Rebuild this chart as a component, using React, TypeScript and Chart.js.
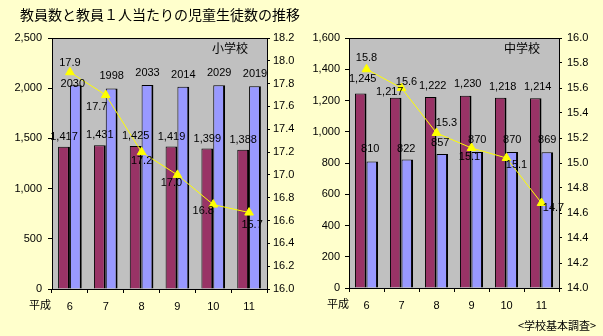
import React, { useEffect, useRef } from 'react';
import { Chart, registerables } from 'chart.js';
Chart.register(...registerables);

// ---- data ----
const categories = ['6', '7', '8', '9', '10', '11'];
const elemMaroon = [1417, 1431, 1425, 1419, 1399, 1388];
const elemBlue = [2030, 1998, 2033, 2014, 2029, 2019];
const elemRatio = [17.9, 17.7, 17.2, 17.0, 16.74, 16.67];
const elemRatioLabels = ['17.9', '17.7', '17.2', '17.0', '16.8', '15.7'];
const juniorMaroon = [1245, 1217, 1222, 1230, 1218, 1214];
const juniorBlue = [810, 822, 857, 870, 870, 869];
const juniorRatio = [15.75, 15.6, 15.24, 15.12, 15.04, 14.68];
const juniorRatioLabels = ['15.8', '15.6', '15.3', '15.1', '15.1', '14.7'];

const NUM_FONT = "'Liberation Sans', Arial, sans-serif";
const JP_FONT = "'Noto Sans CJK JP', sans-serif";

type Off = [number, number][];

interface PanelCfg {
  name: string;
  maroon: number[];
  blue: number[];
  ratio: number[];
  ratioLabels: string[];
  yMax: number;
  yStep: number;
  y1Min: number;
  y1Max: number;
  leftW: number;
  rightW: number;
  bottomY: number;
  width: number;
  leftPadTick: number;
  rightPadTick: number;
  maroonOff: Off;
  blueOff: Off;
  lineOff: Off;
  blueFmt: (v: number) => string;
  eraX: number;
}

const decorPlugin = {
  id: 'decor',
  beforeDraw(chart: any) {
    const { ctx, chartArea: a } = chart;
    ctx.save();
    ctx.fillStyle = '#C0C0C0';
    ctx.fillRect(a.left, a.top, a.right - a.left, a.bottom - a.top);
    ctx.restore();
  },
  afterDatasetsDraw(chart: any, _args: any, opts: any) {
    const cfg: PanelCfg = opts.cfg;
    const { ctx, chartArea: a } = chart;
    ctx.save();
    ctx.strokeStyle = '#000';
    ctx.lineWidth = 1;
    ctx.strokeRect(Math.round(a.left) + 0.5, Math.round(a.top) + 0.5, Math.round(a.right - a.left), Math.round(a.bottom - a.top));
    ctx.fillStyle = '#000';
    ctx.textAlign = 'center';
    ctx.textBaseline = 'middle';
    ctx.font = `11px ${NUM_FONT}`;
    const mMeta = chart.getDatasetMeta(1);
    const bMeta = chart.getDatasetMeta(2);
    const lMeta = chart.getDatasetMeta(0);
    cfg.maroon.forEach((v, i) => {
      const el = mMeta.data[i];
      const [dx, dy] = cfg.maroonOff[i];
      ctx.fillText(v.toLocaleString('en-US'), el.x + dx, el.y + dy);
    });
    cfg.blue.forEach((v, i) => {
      const el = bMeta.data[i];
      const [dx, dy] = cfg.blueOff[i];
      ctx.fillText(cfg.blueFmt(v), el.x + dx, el.y + dy);
    });
    cfg.ratioLabels.forEach((t, i) => {
      const el = lMeta.data[i];
      const [dx, dy] = cfg.lineOff[i];
      ctx.fillText(t, el.x + dx, el.y + dy);
    });
    // school name inside plot
    ctx.font = `12px ${JP_FONT}`;
    ctx.textAlign = 'right';
    ctx.fillText(cfg.name, a.right - 19, a.top + 10);
    // era label
    ctx.font = `11px ${JP_FONT}`;
    ctx.textAlign = 'center';
    ctx.fillText('平成', cfg.eraX, a.bottom + 16);
    ctx.restore();
  },
};

function buildConfig(cfg: PanelCfg): any {
  const tickFont = { family: NUM_FONT, size: 11 };
  const barBorder = { left: 1, top: 1, right: 2, bottom: 0 };
  return {
    type: 'bar',
    data: {
      labels: categories,
      datasets: [
        {
          type: 'line',
          data: cfg.ratio,
          yAxisID: 'y1',
          borderColor: '#FFFF00',
          borderWidth: 1,
          pointStyle: 'triangle',
          pointRadius: 5,
          pointBackgroundColor: '#FFFF00',
          pointBorderColor: '#FFFF00',
          order: 0,
        },
        {
          type: 'bar',
          data: cfg.maroon,
          yAxisID: 'y',
          backgroundColor: '#993366',
          borderColor: '#000',
          borderWidth: barBorder,
          borderSkipped: false,
          categoryPercentage: 0.66,
          barPercentage: 1,
          order: 1,
        },
        {
          type: 'bar',
          data: cfg.blue,
          yAxisID: 'y',
          backgroundColor: '#9999FF',
          borderColor: '#000',
          borderWidth: barBorder,
          borderSkipped: false,
          categoryPercentage: 0.66,
          barPercentage: 1,
          order: 1,
        },
      ],
    },
    options: {
      responsive: false,
      animation: false,
      layout: { padding: { top: 38, left: 0, right: 0, bottom: 0 } },
      plugins: {
        legend: { display: false },
        tooltip: { enabled: false },
        title: { display: false },
        decor: { cfg },
      },
      scales: {
        x: {
          grid: { offset: true, drawOnChartArea: false, color: '#000', tickLength: 4 },
          border: { color: '#000' },
          ticks: { color: '#000', font: tickFont, padding: 7, maxRotation: 0 },
          afterFit: (s: any) => {
            s.height = 336 - cfg.bottomY;
            s.paddingLeft = 0;
            s.paddingRight = 0;
          },
        },
        y: {
          position: 'left',
          min: 0,
          max: cfg.yMax,
          grid: { drawOnChartArea: false, color: '#000', tickLength: 4 },
          border: { color: '#000' },
          ticks: {
            stepSize: cfg.yStep,
            color: '#000',
            font: tickFont,
            padding: cfg.leftPadTick,
            callback: (v: number) => v.toLocaleString('en-US'),
          },
          afterFit: (s: any) => {
            s.width = cfg.leftW;
            s.paddingTop = 0;
            s.paddingBottom = 0;
          },
        },
        y1: {
          position: 'right',
          min: cfg.y1Min,
          max: cfg.y1Max,
          grid: { drawOnChartArea: false, color: '#000', tickLength: 3 },
          border: { color: '#000' },
          ticks: {
            stepSize: 0.2,
            color: '#000',
            font: tickFont,
            padding: cfg.rightPadTick,
            callback: (v: number) => Number(v).toFixed(1),
          },
          afterFit: (s: any) => {
            s.width = cfg.rightW;
            s.paddingTop = 0;
            s.paddingBottom = 0;
          },
        },
      },
    },
    plugins: [decorPlugin],
  };
}

const elemCfg: PanelCfg = {
  name: '小学校',
  maroon: elemMaroon,
  blue: elemBlue,
  ratio: elemRatio,
  ratioLabels: elemRatioLabels,
  yMax: 2500,
  yStep: 500,
  y1Min: 16.0,
  y1Max: 18.2,
  leftW: 52,
  rightW: 33,
  bottomY: 289,
  width: 300,
  leftPadTick: 6,
  rightPadTick: 3,
  maroonOff: [[0, -10], [0, -10], [0, -10], [0, -10], [0, -10], [0, -10]],
  blueOff: [[-3, -1], [0, -12], [0, -12], [0, -12], [0, -12], [0, -12]],
  lineOff: [[0, -9], [-9, 12], [0, 9], [-6, 8], [-10, 6], [3, 12]],
  blueFmt: (v) => String(v),
  eraX: 40,
};

const juniorCfg: PanelCfg = {
  name: '中学校',
  maroon: juniorMaroon,
  blue: juniorBlue,
  ratio: juniorRatio,
  ratioLabels: juniorRatioLabels,
  yMax: 1600,
  yStep: 200,
  y1Min: 14.0,
  y1Max: 16.0,
  leftW: 49,
  rightW: 44,
  bottomY: 288,
  width: 303,
  leftPadTick: 5,
  rightPadTick: 5,
  maroonOff: [[2, -15], [-6, -6], [2, -11], [2, -12], [2, -11], [2, -11]],
  blueOff: [[-2, -12], [-1, -11], [-2, -11], [0, -12], [0, -12], [0, -12]],
  lineOff: [[0, -11], [5, -6], [10, -10], [-2, 9], [10, 7], [12, 5]],
  blueFmt: (v) => String(v),
  eraX: 38,
};

function Panel({ cfg, left }: { cfg: PanelCfg; left: number }) {
  const ref = useRef<HTMLCanvasElement>(null);
  useEffect(() => {
    const chart = new Chart(ref.current as HTMLCanvasElement, buildConfig(cfg));
    return () => chart.destroy();
  }, [cfg]);
  return (
    <div style={{ position: 'absolute', left, top: 0, width: cfg.width, height: 336 }}>
      <canvas ref={ref} width={cfg.width} height={336} style={{ width: cfg.width, height: 336, display: 'block' }} />
    </div>
  );
}

export default function App() {
  useEffect(() => {
    document.body.style.margin = '0';
    document.body.style.background = '#FFFFCC';
  }, []);
  return (
    <div style={{ position: 'relative', width: 603, height: 336, background: '#FFFFCC', overflow: 'hidden' }}>
      <Panel cfg={elemCfg} left={0} />
      <Panel cfg={juniorCfg} left={300} />
      <div
        style={{
          position: 'absolute',
          left: 20,
          top: 4,
          fontFamily: JP_FONT,
          fontSize: 14,
          lineHeight: '20px',
          color: '#000',
          whiteSpace: 'nowrap',
        }}
      >
        教員数と教員１人当たりの児童生徒数の推移
      </div>
      <div
        style={{
          position: 'absolute',
          left: 518,
          top: 317,
          fontFamily: JP_FONT,
          fontSize: 11,
          lineHeight: '16px',
          color: '#000',
          whiteSpace: 'nowrap',
        }}
      >
        &lt;学校基本調査&gt;
      </div>
    </div>
  );
}
